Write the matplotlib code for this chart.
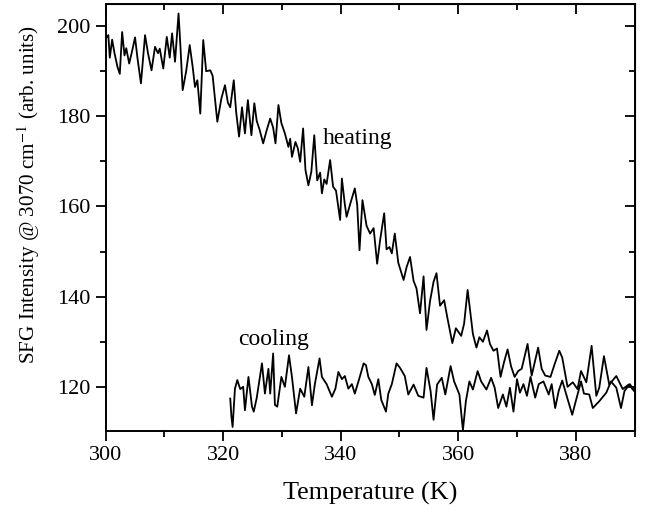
"""
SFG intensity at 3070 cm-1 versus temperature, heating and cooling runs.
Values read off the published trace by eye.
"""

import matplotlib

matplotlib.use("Agg")
import matplotlib.pyplot as plt
from matplotlib.ticker import MultipleLocator

# ---------------------------------------------------------------------------
# Data
# ---------------------------------------------------------------------------

heating_T = [
    300.2, 300.45, 300.7, 301.1, 301.5, 302.0, 302.4, 302.8, 303.2, 303.5,
    304.0, 304.5, 305.0, 305.4, 306.0, 306.7, 307.2, 307.8, 308.4, 308.9,
    309.2, 309.8, 310.4, 310.9, 311.3, 311.8, 312.4, 312.7, 313.1, 313.7,
    314.3, 314.8, 315.2, 315.6, 316.1, 316.6, 317.1, 317.8, 318.2, 318.6,
    319.0, 319.7, 320.3, 320.8, 321.2, 321.8, 322.2, 322.7, 323.2, 323.7,
    324.2, 324.8, 325.3, 325.7, 326.2, 326.8, 327.4, 328.0, 328.5, 328.9,
    329.4, 329.9, 330.5, 331.1, 331.4, 331.7, 332.3, 332.7, 333.1, 333.6,
    334.0, 334.5, 335.0, 335.5, 336.0, 336.5, 336.8, 337.2, 337.6, 338.2,
    338.7, 339.2, 339.9, 340.2, 340.7, 341.0, 341.6, 342.4, 342.8, 343.2,
    343.7, 344.4, 345.0, 345.6, 346.2, 346.7, 347.4, 347.8, 348.3, 348.7,
    349.2, 349.8, 350.7, 351.2, 351.8, 352.4, 352.9, 353.5, 354.1, 354.6,
    355.2, 355.8, 356.3, 356.9, 357.6, 358.2, 359.0, 359.6, 360.5, 361.0,
    361.6, 362.1, 362.5, 363.1, 363.6, 364.2, 364.9, 365.4, 366.0, 366.6,
    367.2, 367.8, 368.4, 369.0, 369.6, 370.2, 370.8, 371.8, 372.5, 373.6,
    374.2, 374.8, 375.7, 376.4, 377.2, 377.7, 378.6, 379.5, 380.3, 380.9,
    381.8, 382.7, 383.5, 384.0, 384.8, 385.7, 386.9, 388.0, 389.0, 390.0,
]
heating_I = [
    197.6, 198.0, 193.0, 197.0, 194.0, 191.0, 189.4, 198.7, 193.5, 195.1,
    191.7, 194.5, 197.5, 193.0, 187.3, 198.0, 194.0, 190.2, 195.4, 194.0,
    195.0, 190.6, 197.6, 193.0, 198.4, 192.1, 202.8, 196.0, 185.8, 190.0,
    195.8, 191.0, 186.5, 188.0, 180.6, 196.9, 190.0, 190.2, 189.0, 184.0,
    178.8, 184.0, 186.9, 183.0, 182.0, 188.0, 181.0, 175.5, 182.0, 176.2,
    183.6, 175.8, 182.9, 179.0, 177.0, 174.0, 176.9, 179.5, 177.5, 174.0,
    182.5, 178.5, 176.2, 173.2, 175.0, 171.0, 174.3, 172.9, 169.9, 177.3,
    168.1, 164.7, 167.7, 175.8, 165.8, 167.5, 162.9, 166.0, 165.0, 170.3,
    164.4, 163.5, 157.0, 166.2, 160.5, 157.7, 160.5, 164.0, 160.5, 150.3,
    161.4, 155.7, 154.0, 155.2, 147.3, 152.5, 158.5, 150.5, 151.0, 149.6,
    154.0, 147.5, 143.7, 146.5, 148.8, 143.5, 141.8, 136.3, 144.5, 132.6,
    139.0, 143.3, 145.2, 138.0, 139.2, 135.0, 129.7, 133.0, 131.3, 134.0,
    141.5, 136.0, 131.7, 128.7, 131.0, 130.0, 132.5, 129.5, 128.0, 128.5,
    122.2, 125.5, 128.3, 124.5, 122.2, 123.5, 124.0, 129.5, 122.5, 128.7,
    124.0, 122.5, 122.2, 125.0, 128.0, 126.5, 120.0, 121.0, 119.5, 123.5,
    121.0, 129.1, 118.0, 119.8, 126.8, 120.5, 122.4, 119.5, 120.5, 119.0,
]

cooling_T = [
    321.2, 321.4, 321.6, 322.0, 322.4, 322.9, 323.4, 323.7, 324.3, 324.9,
    325.2, 325.7, 326.6, 327.1, 327.7, 328.0, 328.5, 328.8, 329.2, 329.9,
    330.5, 331.2, 331.7, 332.4, 333.1, 333.8, 334.5, 335.1, 335.6, 336.4,
    336.8, 337.6, 338.5, 339.1, 339.6, 340.2, 340.7, 341.3, 341.9, 342.4,
    343.2, 343.9, 344.3, 344.7, 345.3, 345.8, 346.4, 346.9, 347.7, 348.1,
    348.7, 349.5, 350.1, 350.9, 351.5, 352.4, 353.2, 354.1, 354.6, 355.3,
    355.8, 356.4, 357.2, 357.8, 358.7, 359.3, 360.2, 360.8, 361.3, 361.9,
    362.5, 363.3, 363.9, 364.8, 365.6, 366.2, 366.8, 367.6, 368.2, 368.8,
    369.4, 370.0, 370.5, 371.1, 371.7, 372.3, 373.1, 373.7, 374.5, 375.4,
    375.9, 376.5, 377.1, 377.7, 378.3, 379.4, 380.0, 380.9, 381.4, 382.3,
    382.9, 384.0, 385.2, 386.0, 386.9, 387.7, 388.3, 389.2, 390.0,
]
cooling_I = [
    117.4, 113.4, 111.1, 119.6, 121.5, 119.5, 120.0, 114.8, 122.2, 115.6,
    114.5, 117.5, 125.2, 118.5, 124.0, 118.5, 127.4, 116.0, 115.6, 122.2,
    120.0, 127.0, 122.2, 114.1, 119.6, 117.8, 124.4, 115.9, 120.6, 126.3,
    122.2, 120.6, 117.8, 119.6, 123.3, 121.7, 122.4, 119.6, 120.6, 118.5,
    122.0, 125.2, 124.8, 122.2, 120.6, 118.2, 121.7, 117.1, 114.5, 118.5,
    120.6, 125.2, 124.2, 122.4, 118.3, 120.5, 118.0, 117.6, 124.2, 119.0,
    112.7, 120.5, 122.0, 118.3, 124.6, 121.2, 118.3, 110.4, 116.8, 121.2,
    119.4, 123.5, 121.2, 119.4, 122.0, 119.8, 115.3, 118.3, 115.6, 119.8,
    114.5, 121.7, 118.7, 120.6, 118.0, 122.2, 117.6, 120.6, 121.2, 118.3,
    120.6, 115.3, 119.1, 121.4, 118.7, 113.8, 116.8, 121.2, 118.5, 118.3,
    115.3, 116.8, 118.7, 121.2, 119.8, 115.3, 119.1, 120.6, 119.1,
]

x_ticks = [300, 320, 340, 360, 380]
y_ticks = [120, 140, 160, 180, 200]


def style_ticks(axis_obj, direction, **labels) -> None:
    axis_obj.tick_params(which="both", direction=direction, width=1.3,
                         **labels)
    axis_obj.tick_params(which="major", length=7)
    axis_obj.tick_params(which="minor", length=4)


def main() -> None:
    plt.rcParams["font.family"] = ["Liberation Serif", "DejaVu Serif"]
    plt.rcParams["mathtext.fontset"] = "stix"

    fig = plt.figure(figsize=(6.46, 5.16), dpi=100)
    ax = fig.add_axes([0.1636, 0.1647, 0.8186, 0.8275])

    ax.plot(heating_T, heating_I, color="black", lw=1.3)
    ax.plot(cooling_T, cooling_I, color="black", lw=1.3)

    ax.set_xlim(300, 390)
    ax.set_ylim(110.2, 204.9)
    ax.set_xticks(x_ticks)
    ax.set_yticks(y_ticks)
    ax.xaxis.set_minor_locator(MultipleLocator(10))
    ax.yaxis.set_minor_locator(MultipleLocator(10))

    for side in ax.spines.values():
        side.set_linewidth(1.4)
    style_ticks(ax, "out", labelsize=16, pad=4)

    # mirrored inward ticks on top and right, unlabeled
    top = ax.secondary_xaxis("top")
    top.set_xticks(x_ticks)
    top.xaxis.set_minor_locator(MultipleLocator(10))
    style_ticks(top, "in", labeltop=False)
    right = ax.secondary_yaxis("right")
    right.set_yticks(y_ticks)
    right.yaxis.set_minor_locator(MultipleLocator(10))
    style_ticks(right, "in", labelright=False)

    ax.set_xlabel("Temperature (K)", fontsize=18.8, labelpad=12)
    ax.set_ylabel("SFG Intensity @ 3070 cm$^{-1}$ (arb. units)",
                  fontsize=15.2)
    ax.yaxis.set_label_coords(-0.12, 0.553)

    ax.text(337.0, 175.0, "heating", fontsize=17, va="center", ha="left")
    ax.text(322.5, 130.4, "cooling", fontsize=17, va="center", ha="left")

    fig.savefig("out.png", dpi=100)
    plt.close(fig)


if __name__ == "__main__":
    main()
